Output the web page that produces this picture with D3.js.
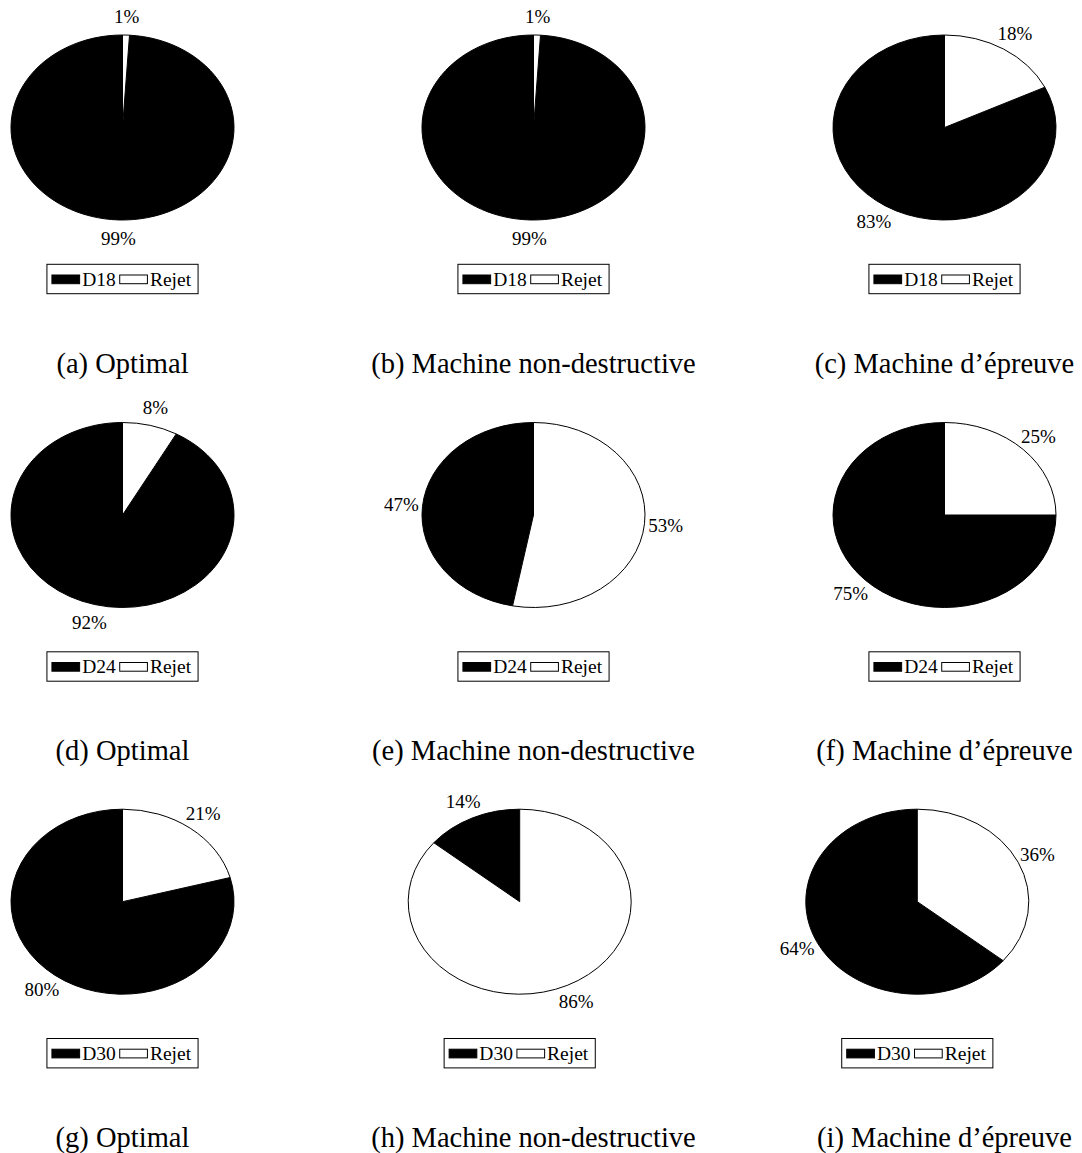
<!DOCTYPE html>
<html><head><meta charset="utf-8">
<script src="https://cdn.jsdelivr.net/npm/d3@7"></script>
<style>
body{margin:0;background:#fff}
svg{display:block}
text{font-family:"Liberation Serif","Times New Roman",serif;fill:#000}
</style>
</head><body>
<svg id="chart" width="1082" height="1153"></svg>
<script>
// ---- data ----
const seriesNames = ["D18", "D24", "D30"];          // one per row
const otherName = "Rejet";
const methods = ["Optimal", "Machine non-destructive", "Machine d’épreuve"]; // one per column
const letters = ["a", "b", "c", "d", "e", "f", "g", "h", "i"];
const dValues = [[99, 99, 83], [92, 47, 75], [80, 14, 64]];
const rejetValues = [[1, 1, 18], [8, 53, 25], [21, 86, 36]];

// ---- layout ----
const colX = [122.5, 533.5, 944.5];
const rowY = [127.5, 515, 901.7];
const pieX = [[122.5, 533.5, 944.5], [122.5, 533.5, 944.5], [122.5, 519.7, 917.3]];
const rx = 111.5, ry = 92.5;
const labelFs = 19, legendFs = 19.5, captionFs = 28.5;
const captionDy = 245;

const svg = d3.select("#chart");
const pie = d3.pie().sort(null).value(d => d.v).startAngle(0).endAngle(-2 * Math.PI);
const arc = d3.arc().innerRadius(0).outerRadius(ry);
const fillScale = d3.scaleOrdinal().domain([0, 1]).range(["#000", "#fff"]);

for (let r = 0; r < 3; r++) {
  for (let c = 0; c < 3; c++) {
    const cx = pieX[r][c], cy = rowY[r];
    const data = [{ name: seriesNames[r], v: dValues[r][c], i: 0 },
                  { name: otherName, v: rejetValues[r][c], i: 1 }];
    const arcs = pie(data);
    const g = svg.append("g").attr("transform", `translate(${cx},${cy}) scale(${rx / ry},1)`);
    g.selectAll("path").data(arcs).join("path")
      .attr("d", arc)
      .attr("fill", d => fillScale(d.data.i))
      .attr("stroke", "#000")
      .attr("stroke-width", 1)
      .attr("vector-effect", "non-scaling-stroke");

    // labels
    svg.append("g").selectAll("text").data(arcs).join("text")
      .attr("x", d => { const m = (d.startAngle + d.endAngle) / 2; return cx + 1.19 * rx * Math.sin(m); })
      .attr("y", d => { const m = (d.startAngle + d.endAngle) / 2; return cy - 1.2 * ry * Math.cos(m) + 0.33 * labelFs; })
      .attr("text-anchor", "middle")
      .style("font-size", labelFs + "px")
      .text(d => d.data.v + "%");

    // legend
    const lg = svg.append("g");
    const items = data.map(d => d.name);
    const swW = 27.7, swH = 8.7, padL = 5, gapSw = 2.5, gapItem = 4, padR = 7;
    let x = 0;
    const pos = [];
    items.forEach((name, i) => {
      const t = lg.append("text").style("font-size", legendFs + "px").text(name);
      const tw = t.node().getComputedTextLength();
      pos.push({ sx: x, tx: x + swW + gapSw, t: t, i: i });
      x += swW + gapSw + tw + gapItem;
    });
    const inner = x - gapItem;
    const boxW = padL + inner + padR;
    const boxX = cx - boxW / 2, boxY = cy + 136.8, boxH = 29.4;
    lg.insert("rect", ":first-child")
      .attr("x", boxX).attr("y", boxY).attr("width", boxW).attr("height", boxH)
      .attr("fill", "#fff").attr("stroke", "#000").attr("stroke-width", 1);
    pos.forEach(p => {
      lg.append("rect")
        .attr("x", boxX + padL + p.sx).attr("y", cy + 147.5)
        .attr("width", swW).attr("height", swH)
        .attr("fill", fillScale(p.i)).attr("stroke", "#000").attr("stroke-width", 1);
      p.t.attr("x", boxX + padL + p.tx).attr("y", cy + 158);
    });

    // caption
    svg.append("text")
      .attr("x", colX[c]).attr("y", cy + captionDy)
      .attr("text-anchor", "middle")
      .style("font-size", captionFs + "px")
      .text(`(${letters[r * 3 + c]}) ${methods[c]}`);
  }
}
</script>
</body></html>
